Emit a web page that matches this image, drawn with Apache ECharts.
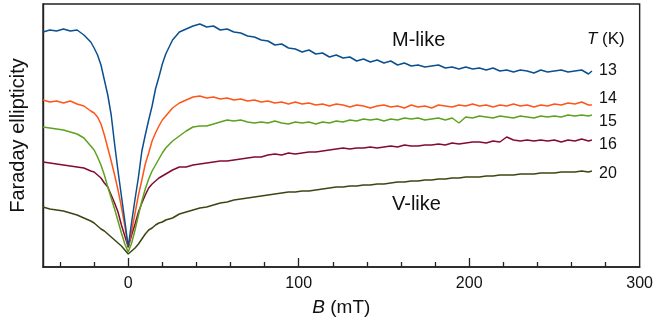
<!DOCTYPE html>
<html>
<head>
<meta charset="utf-8">
<script src="https://cdn.jsdelivr.net/npm/echarts@6/dist/echarts.min.js"></script>
<style>
html,body{margin:0;padding:0;background:#fff;}
#chart{width:656px;height:327px;}
</style>
</head>
<body>
<div id="chart"></div>
<script>
// Magnetic field B (mT)
var B = [-50,-46,-42,-38,-34,-30,-26,-22,
  -20,-18,-16,-14,-12,-10,-8,-6,-4,-2,0,2,4,6,8,10,12,14,16,18,20,
  22,26,30,34,38,42,46,50,54,58,
  62,66,70,74,78,82,86,90,94,98,
  102,106,110,114,118,122,126,130,134,138,
  142,146,150,154,158,162,166,170,174,178,
  182,186,190,194,198,202,206,210,214,218,
  222,226,230,234,238,242,246,250,254,258,
  262,266,270,
  272];

// Faraday ellipticity (arb. units, offset curves)
var T13 = [235,237,236,238,236,237,232,225,
  219,212,202,187,172,152,123,96,71,46,20,45,68,90,116,132,147,161,178,190,203,
  213,227,235,238,241,243,240,241,237,238,
  235,234,231,230,227,226,222,223,219,218,
  215,217,213,214,210,212,209,210,206,208,
  205,207,204,206,202,204,201,202,200,201,
  202,199,200,198,200,198,199,197,199,196,
  197,195,197,196,194,197,195,196,197,195,
  196,197,193,
  196];
var T14 = [167,165,166,164,166,163,161,156,
  154,150,143,132,119,106,92,77,60,41,19,36,54,72,87,103,114,126,134,141,147,
  151,159,164,167,170,171,169,170,168,169,
  167,168,166,167,165,166,164,165,163,165,
  163,164,162,163,161,163,162,160,162,161,
  159,161,162,160,161,159,162,160,161,159,
  162,161,160,162,161,163,161,162,160,162,
  161,163,161,162,160,162,161,163,162,164,
  163,165,162,
  162];
var T15 = [140,139,138,137,135,133,129,121,
  117,110,102,92,80,69,58,46,34,23,15,24,37,52,66,78,88,96,102,108,114,
  119,126,131,136,140,141,141,143,145,147,
  146,147,145,144,145,144,146,144,143,145,
  144,145,143,145,144,146,145,147,146,148,
  147,148,146,148,147,149,148,149,147,148,
  149,147,149,144,150,149,151,150,149,151,
  150,149,151,150,149,151,150,151,150,152,
  151,152,151,
  152];
var T16 = [105,104,103,102,101,100,99,96,
  95,92,89,84,80,72,64,55,42,31,20,32,43,55,64,72,79,83,86,89,91,
  93,97,100,100,102,103,104,105,106,106,
  107,108,109,110,110,112,113,112,114,113,
  114,115,115,116,117,118,119,118,119,119,
  120,119,120,121,120,122,121,121,122,122,
  123,122,124,123,124,125,125,124,126,125,
  130,127,126,127,126,127,126,127,125,127,
  126,128,126,
  127];
var T20 = [60,58,57,56,54,52,49,46,
  44,41,38,36,33,30,27,24,21,17,13,16,19,23,28,33,37,39,42,44,45,
  47,49,53,55,57,59,60,62,64,65,
  67,68,69,70,71,72,73,74,75,75,
  76,76,77,78,79,80,80,81,81,82,
  82,83,83,84,85,85,86,86,87,87,
  88,88,89,89,90,90,90,91,91,92,
  92,92,93,93,93,94,94,94,95,95,
  95,96,95,
  96];

var temps = ['13','14','15','16','20'];
var labelTicks = [0,100,200,300];
var majorTicks = [0,100,200];
var minorTicks = [-40,-20,20,40,60,80,120,140,160,180,220,240,260,280];

var colors = ['#0a4f8f','#ff5518','#5da21e','#850a30','#3b4712'];
var allSeries = [T13,T14,T15,T16,T20];

function pairs(ys){ return B.map(function(b,i){ return [b, ys[i]]; }); }

var FONT = '"Liberation Sans", Arial, Helvetica, sans-serif';

var chart = echarts.init(document.getElementById('chart'), null, {renderer:'canvas'});
var series = allSeries.map(function(ys, k){
  return {
    type:'line', name: temps[k], data: pairs(ys), showSymbol:false, symbol:'none',
    lineStyle:{color:colors[k], width:1.5}, itemStyle:{color:colors[k]},
    animation:false, z: 10 - k
  };
});

var tempY = [71.5, 100, 123, 146, 175];
var graphics = [
  {type:'text', left:392, top:30, style:{text:'M-like', font:'20px '+FONT, fill:'#111'}},
  {type:'text', left:392, top:194, style:{text:'V-like', font:'20px '+FONT, fill:'#111'}},
  {type:'text', left:587, top:31, style:{text:'{i|T} (K)', font:'17px '+FONT, fill:'#111',
     rich:{i:{fontStyle:'italic', fontSize:17, fontFamily:FONT, fill:'#111'}}}}
];
temps.forEach(function(t, k){
  graphics.push({type:'text', left:599, top:tempY[k]-9, style:{text:t, font:'16px '+FONT, fill:'#111'}});
});

chart.setOption({
  animation:false,
  backgroundColor:'#fff',
  grid:{left:43, right:16, top:4, bottom:60, show:true, borderColor:'#222', borderWidth:1.4, backgroundColor:'transparent'},
  xAxis:[{
    type:'value', min:-50, max:300,
    axisLine:{show:true, onZero:false, lineStyle:{color:'#222', width:1.6}},
    axisTick:{show:true, inside:true, length:9, customValues:majorTicks, lineStyle:{color:'#222', width:1.3}},
    axisLabel:{show:true, customValues:labelTicks, margin:9, fontSize:16, fontFamily:FONT, color:'#111'},
    splitLine:{show:false},
    name:'{i|B} (mT)', nameLocation:'middle', nameGap:31,
    nameTextStyle:{fontSize:19, fontFamily:FONT, color:'#111',
      rich:{i:{fontStyle:'italic', fontSize:19, fontFamily:FONT, color:'#111'}}}
  },{
    type:'value', min:-50, max:300, position:'bottom',
    axisLine:{show:false, onZero:false},
    axisTick:{show:true, inside:true, length:5, customValues:minorTicks, lineStyle:{color:'#222', width:1.3}},
    axisLabel:{show:false},
    splitLine:{show:false}
  }],
  yAxis:{
    type:'value', min:0, max:263,
    axisLine:{show:true, onZero:false, lineStyle:{color:'#222', width:1.4}},
    axisTick:{show:false}, axisLabel:{show:false}, splitLine:{show:false},
    name:'Faraday ellipticity', nameLocation:'middle', nameGap:15, nameRotate:90,
    nameTextStyle:{fontSize:20, fontFamily:FONT, color:'#111'}
  },
  series: series,
  graphic: graphics
});
</script>
</body>
</html>
